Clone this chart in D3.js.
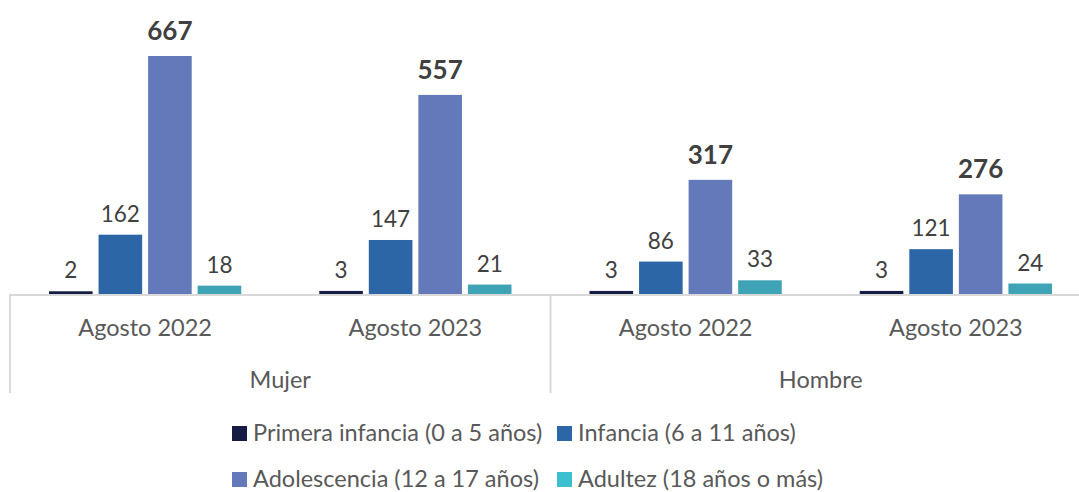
<!DOCTYPE html>
<html>
<head>
<meta charset="utf-8">
<script src="https://cdn.jsdelivr.net/npm/d3@7"></script>
<style>
  body { margin: 0; background: #fff; }
  text { font-family: Lato, "Open Sans", sans-serif; }
</style>
</head>
<body>
<div id="chart"></div>
<script>
// data
var genders = ['Mujer', 'Hombre']
var periods = ['Agosto 2022', 'Agosto 2023']
var series = ['Primera infancia (0 a 5 años)', 'Infancia (6 a 11 años)', 'Adolescencia (12 a 17 años)', 'Adultez (18 años o más)']
var primeraInfancia = [2, 3, 3, 3]
var infancia = [162, 147, 86, 121]
var adolescencia = [667, 557, 317, 276]
var adultez = [18, 21, 33, 24]

var barColors = ['#141c44', '#2c66a6', '#6379ba', '#3ea3b5']
var legendColors = ['#141c44', '#2c66a6', '#6379ba', '#3cc0d0']

var width = 1079, height = 492
var margin = { top: 0, left: 10 }
var plotRight = 1091
var baseY = 294

var svg = d3.select('#chart').append('svg')
  .attr('width', width)
  .attr('height', height)

// one entry per category on the axis
var cats = []
genders.forEach(function(g, gi){
  periods.forEach(function(p, pi){
    cats.push({ gender: g, period: p, idx: gi * periods.length + pi })
  })
})
var allValues = [primeraInfancia, infancia, adolescencia, adultez]

var x0 = d3.scaleBand()
  .domain(cats.map(function(d){ return d.idx }))
  .range([margin.left, plotRight])

var x1 = d3.scaleBand()
  .domain(d3.range(series.length))
  .range([39, x0.bandwidth() - 39])
  .paddingInner(0.12)

var y = d3.scaleLinear()
  .domain([0, 667])
  .range([baseY, 58])

var groups = svg.selectAll('.cat')
  .data(cats)
  .enter().append('g')
  .attr('class', 'cat')
  .attr('transform', function(d){ return 'translate(' + x0(d.idx) + ',0)' })

groups.selectAll('rect')
  .data(function(c){ return allValues.map(function(vals, si){ return { s: si, v: vals[c.idx] } }) })
  .enter().append('rect')
  .attr('x', function(d){ return x1(d.s) })
  .attr('width', x1.bandwidth())
  .attr('y', function(d){ return y(d.v) - 2 })
  .attr('height', function(d){ return baseY - y(d.v) + 2 })
  .style('fill', function(d){ return barColors[d.s] })

groups.selectAll('text.val')
  .data(function(c){ return allValues.map(function(vals, si){ return { s: si, v: vals[c.idx] } }) })
  .enter().append('text')
  .attr('class', 'val')
  .attr('x', function(d){ return x1(d.s) + x1.bandwidth() / 2 })
  .attr('y', function(d){ return y(d.v) - (d.s == 2 ? 18 : 15) })
  .attr('text-anchor', 'middle')
  .style('font-size', function(d){ return d.s == 2 ? '26px' : '22.5px' })
  .style('font-weight', function(d){ return d.s == 2 ? 'bold' : 'normal' })
  .style('fill', '#404040')
  .text(function(d){ return d.v })

// axis lines
var lineColor = '#d9d9d9'
svg.append('line')
  .attr('x1', margin.left).attr('x2', width)
  .attr('y1', baseY + 1).attr('y2', baseY + 1)
  .style('stroke', lineColor).style('stroke-width', 2)

var gx = d3.scaleBand().domain(genders).range([margin.left, plotRight])
genders.forEach(function(g){
  svg.append('line')
    .attr('x1', gx(g)).attr('x2', gx(g))
    .attr('y1', baseY).attr('y2', 393)
    .style('stroke', lineColor).style('stroke-width', 2)
})

groups.append('text')
  .attr('x', x0.bandwidth() / 2)
  .attr('y', 336)
  .attr('text-anchor', 'middle')
  .style('font-size', '23.5px')
  .style('fill', '#595959')
  .text(function(d){ return d.period })

svg.selectAll('text.gender')
  .data(genders)
  .enter().append('text')
  .attr('class', 'gender')
  .attr('x', function(d){ return gx(d) + gx.bandwidth() / 2 })
  .attr('y', 388)
  .attr('text-anchor', 'middle')
  .style('font-size', '23.5px')
  .style('fill', '#595959')
  .text(function(d){ return d })

// legend
var legendPos = [[232, 433], [557, 433], [232, 479], [557, 479]]
var legend = svg.selectAll('.legend')
  .data(series)
  .enter().append('g')
  .attr('class', 'legend')
  .attr('transform', function(d, i){ return 'translate(' + legendPos[i][0] + ',' + legendPos[i][1] + ')' })

legend.append('rect')
  .attr('x', 0).attr('y', -7)
  .attr('width', 15).attr('height', 15)
  .style('fill', function(d, i){ return legendColors[i] })

legend.append('text')
  .attr('x', 21)
  .attr('y', 8)
  .style('font-size', '23.5px')
  .style('fill', '#595959')
  .text(function(d){ return d })
</script>
</body>
</html>
